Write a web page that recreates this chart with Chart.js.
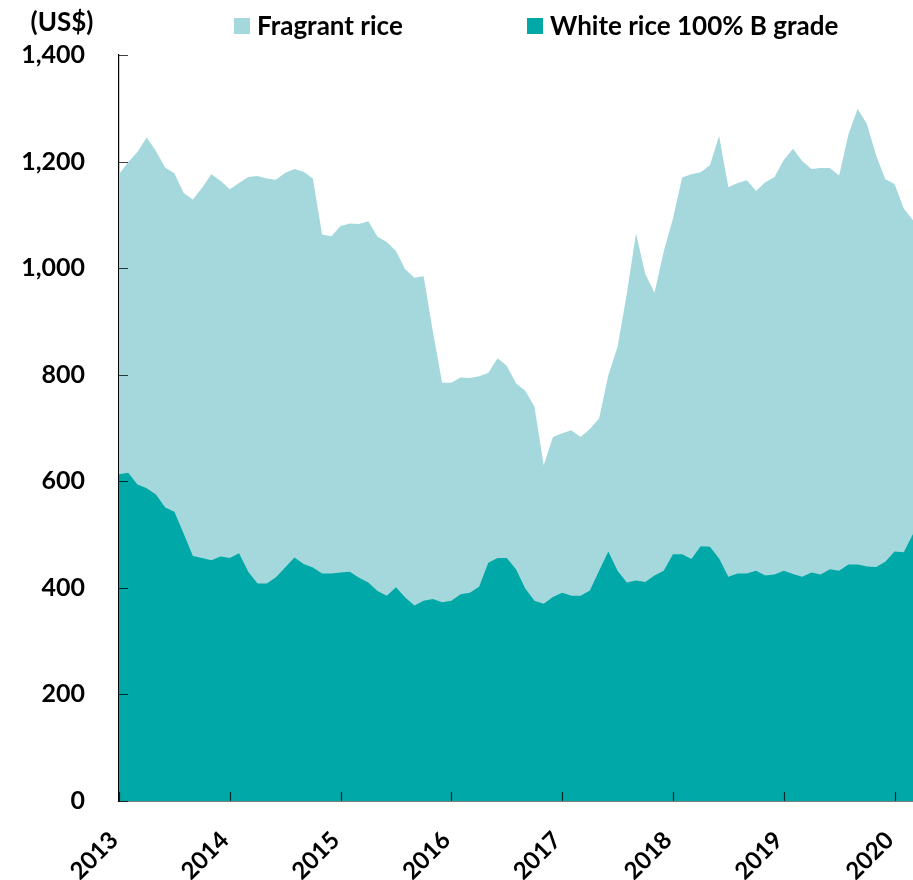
<!DOCTYPE html>
<html>
<head>
<meta charset="utf-8">
<script src="https://cdn.jsdelivr.net/npm/chart.js@4.4.1/dist/chart.umd.min.js"></script>
<style>
  body { margin: 0; background: #fff; }
</style>
</head>
<body>
<canvas id="chart" width="913" height="880"></canvas>
<script>
// monthly export prices, Jan 2013 - Mar 2020
const years = [2013, 2014, 2015, 2016, 2017, 2018, 2019, 2020];
const lastMonthOf2020 = 3;
const months = [];
years.forEach(y => {
  for (let m = 1; m <= 12; m++) {
    if (y === 2020 && m > lastMonthOf2020) break;
    months.push(y + "-" + String(m).padStart(2, "0"));
  }
});

const fragrant = [
  1176, 1199, 1218, 1245, 1220, 1189, 1178, 1141, 1129, 1151, 1176, 1164,
  1148, 1160, 1171, 1173, 1168, 1166, 1179, 1186, 1181, 1168, 1063, 1060,
  1079, 1084, 1083, 1088, 1059, 1049, 1032, 998, 982, 985, 880, 785,
  785, 795, 794, 797, 803, 831, 817, 784, 770, 740, 630, 683,
  690, 696, 683, 698, 718, 799, 852, 952, 1065, 989, 954, 1031,
  1093, 1170, 1176, 1180, 1193, 1248, 1152, 1160, 1165, 1145, 1161, 1171,
  1203, 1224, 1201, 1186, 1188, 1188, 1174, 1251, 1299, 1271, 1212, 1167,
  1158, 1112, 1090
];

const whiteRice = [
  613, 616, 594, 587, 575, 551, 543, 502, 460, 456, 452, 459,
  456, 465, 430, 408, 408, 420, 438, 457, 445, 438, 427, 427,
  429, 430, 419, 410, 394, 385, 401, 382, 367, 376, 379, 373,
  376, 388, 391, 402, 447, 456, 456, 435, 399, 376, 370, 383,
  391, 385, 385, 395, 432, 468, 432, 410, 414, 411, 423, 432,
  463, 463, 454, 478, 477, 455, 421, 427, 427, 432, 423, 425,
  432, 426, 421, 429, 425, 435, 432, 444, 444, 440, 439, 449,
  468, 467, 501
];

const yMax = 1400;
const yStep = 200;

const FONT = 'Lato, "Open Sans", sans-serif';
const LIGHT = "#a4d8dc";
const DARK = "#00a8a8";

// small tick marks pointing into the plot, as in the original
const innerTicks = {
  id: "innerTicks",
  afterDatasetsDraw(chart) {
    const { ctx, chartArea: a, scales: { x, y } } = chart;
    ctx.save();
    ctx.strokeStyle = "rgba(0,0,0,0.75)";
    ctx.lineWidth = 1.2;
    ctx.beginPath();
    y.ticks.forEach((t, i) => {
      const py = Math.round(y.getPixelForTick(i)) + 0.5;
      ctx.moveTo(a.left, py);
      ctx.lineTo(a.left + 9, py);
    });
    x.ticks.forEach((t, i) => {
      const px = Math.round(x.getPixelForTick(i)) + 0.5;
      ctx.moveTo(px, a.bottom);
      ctx.lineTo(px, a.bottom - 9);
    });
    ctx.stroke();
    ctx.restore();
  }
};

// unit label and legend row at the top
const header = {
  id: "header",
  afterDraw(chart) {
    const { ctx } = chart;
    ctx.save();
    ctx.font = "bold 26px " + FONT;
    ctx.fillStyle = "#000";
    ctx.textBaseline = "middle";
    ctx.textAlign = "center";
    ctx.fillText("(US$)", 62, 23);

    ctx.textAlign = "left";
    const items = [
      { x: 234, color: LIGHT, text: chart.data.datasets[0].label },
      { x: 527, color: DARK, text: chart.data.datasets[1].label }
    ];
    items.forEach(it => {
      ctx.fillStyle = it.color;
      ctx.fillRect(it.x, 18, 16, 16);
      ctx.fillStyle = "#000";
      ctx.fillText(it.text, it.x + 23, 27);
    });
    ctx.restore();
  }
};

new Chart(document.getElementById("chart"), {
  type: "line",
  data: {
    labels: months,
    datasets: [
      {
        label: "Fragrant rice",
        data: fragrant,
        backgroundColor: LIGHT,
        borderWidth: 0,
        pointRadius: 0,
        fill: "origin",
        order: 1
      },
      {
        label: "White rice 100% B grade",
        data: whiteRice,
        backgroundColor: DARK,
        borderWidth: 0,
        pointRadius: 0,
        fill: "origin",
        order: 0
      }
    ]
  },
  options: {
    responsive: false,
    animation: false,
    layout: { padding: { top: 55, left: 0, right: 0, bottom: 0 } },
    plugins: { legend: { display: false }, tooltip: { enabled: false } },
    elements: { line: { tension: 0 } },
    scales: {
      x: {
        offset: false,
        grid: { display: false, drawTicks: false },
        border: { display: true, color: "#000", width: 1.5 },
        afterBuildTicks: s => { s.ticks = s.ticks.filter(t => months[t.value].endsWith("-01")); },
        afterFit: s => { s.height = 79; s.paddingLeft = 0; s.paddingRight = 0; },
        ticks: {
          autoSkip: false,
          minRotation: 45,
          maxRotation: 45,
          padding: 25,
          labelOffset: -5,
          color: "#000",
          font: { family: FONT, size: 24, weight: "bold" },
          callback: v => months[v].slice(0, 4)
        }
      },
      y: {
        min: 0,
        max: yMax,
        grid: { display: false, drawTicks: false },
        border: { display: true, color: "#000", width: 1.2 },
        afterFit: s => { s.width = 119; },
        ticks: {
          stepSize: yStep,
          padding: 34,
          color: "#000",
          font: { family: FONT, size: 25, weight: "bold" },
          callback: v => v.toLocaleString("en-US")
        }
      }
    }
  },
  plugins: [innerTicks, header]
});
</script>
</body>
</html>
